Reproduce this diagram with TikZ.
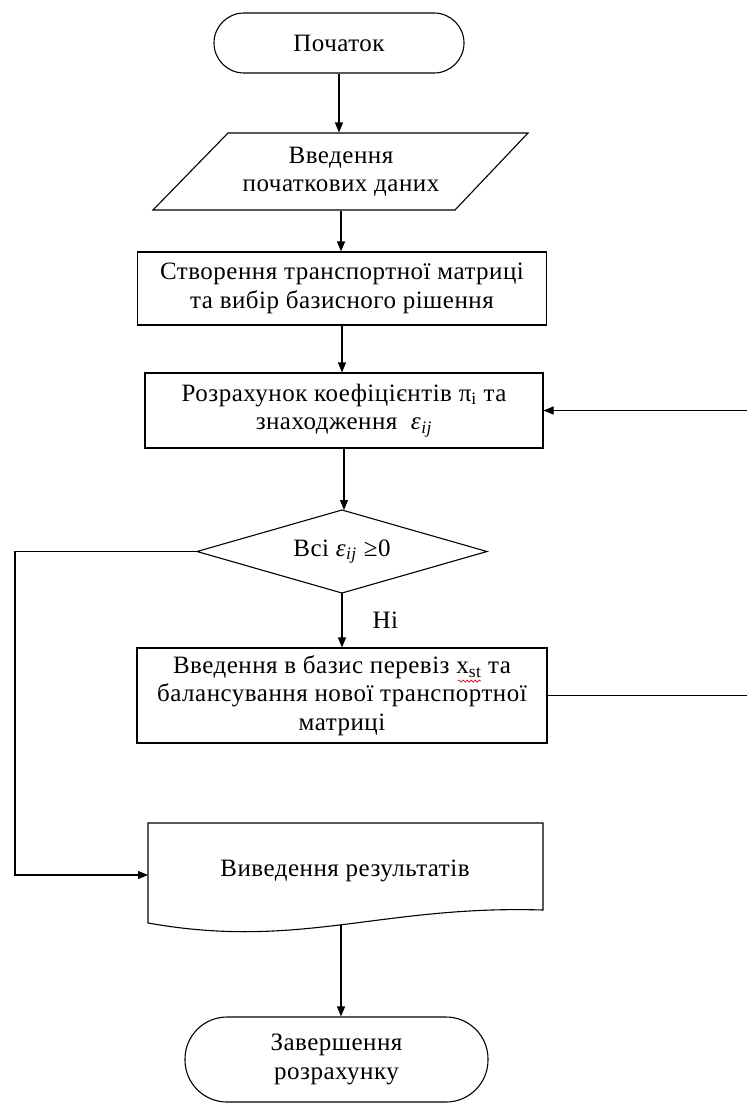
\documentclass[tikz,border=0pt]{standalone}
\usepackage{fontspec}
\setmainfont[LetterSpace=2]{Liberation Serif}
\usetikzlibrary{arrows.meta,decorations.pathmorphing}
\newcommand{\diagfont}{\fontsize{25}{28.5}\selectfont}
\tikzset{
  txt/.style={align=center, font=\diagfont, inner sep=0pt},
  proc/.style={draw, rectangle, txt},
  term/.style={draw, rectangle, txt},
  arr/.style={-{Triangle[length=10pt,width=8pt]}},
}
\begin{document}
\begin{tikzpicture}[x=1pt,y=-1pt,line width=1.1pt]
\useasboundingbox (0,0) rectangle (747,1104);
% start
\node[term, minimum width=250pt, minimum height=60pt, rounded corners=30pt] (start) at (339,43) {Початок};
% input (parallelogram)
\node[txt, minimum width=302pt, minimum height=77pt] (inp) at (341,171.5) {Введення\\початкових даних};
\draw (228,133) -- (528,133) -- (455,210) -- (153,210) -- cycle;
% create matrix
\node[proc, minimum width=409pt, minimum height=73pt] (make) at (342,288.5) {Створення транспортної матриці\\та вибір базисного рішення};
% calc
\node[proc, minimum width=398pt, minimum height=75pt] (calc) at (344,410.5) {Розрахунок коефіцієнтів π\textsubscript{i} та\\знаходження \ \textit{ε}\textsubscript{\textit{ij}}};
% decision
\node[txt] (dec) at (342,551.5) {Всі \textit{ε}\textsubscript{\textit{ij}} ≥0};
\coordinate (decT) at (342,510);
\coordinate (decB) at (342,593);
\coordinate (decL) at (197,551.5);
\coordinate (decR) at (487,551.5);
\draw (decL) -- (decT) -- (decR) -- (decB) -- cycle;
% move
\node[proc, minimum width=410pt, minimum height=95pt] (move) at (342,695.5) {Введення в базис перевіз x\textsubscript{st} та\\балансування нової транспортної\\матриці};
\draw[red, line width=0.7pt, decorate, decoration={snake, amplitude=1pt, segment length=4pt}] (458,681) -- (481,681);
% output document
\node[txt] (out) at (345,871) {Виведення результатів};
\draw (148,823) -- (543,823) -- (543,910) .. controls (380,905) and (300,950) .. (148,923) -- cycle;
\coordinate (outL) at (148,875);
\coordinate (outB) at (341,925);
% end
\node[term, minimum width=303pt, minimum height=85pt, rounded corners=42pt] (end) at (336.5,1059.5) {Завершення\\розрахунку};
% connectors
\draw[arr] (start.south) -- (start.south |- inp.north);
\draw[arr] (inp.south) -- (inp.south |- make.north);
\draw[arr] (make.south) -- (make.south |- calc.north);
\draw[arr] (calc.south) -- (calc.south |- decT);
\draw[arr] (decB) -- (decB |- move.north) node[txt, pos=0.5, anchor=west, xshift=30pt] (no) {Ні};
\coordinate (lft) at (15,551.5);
\draw[arr] (decL) -- (lft) |- (outL);
\coordinate (rtA) at (747,695.5);
\coordinate (rtB) at (747,410.5);
\draw (move.east) -- (rtA);
\draw[arr] (rtB) -- (calc.east);
\draw[arr] (outB) -- (outB |- end.north);
\end{tikzpicture}
\end{document}
